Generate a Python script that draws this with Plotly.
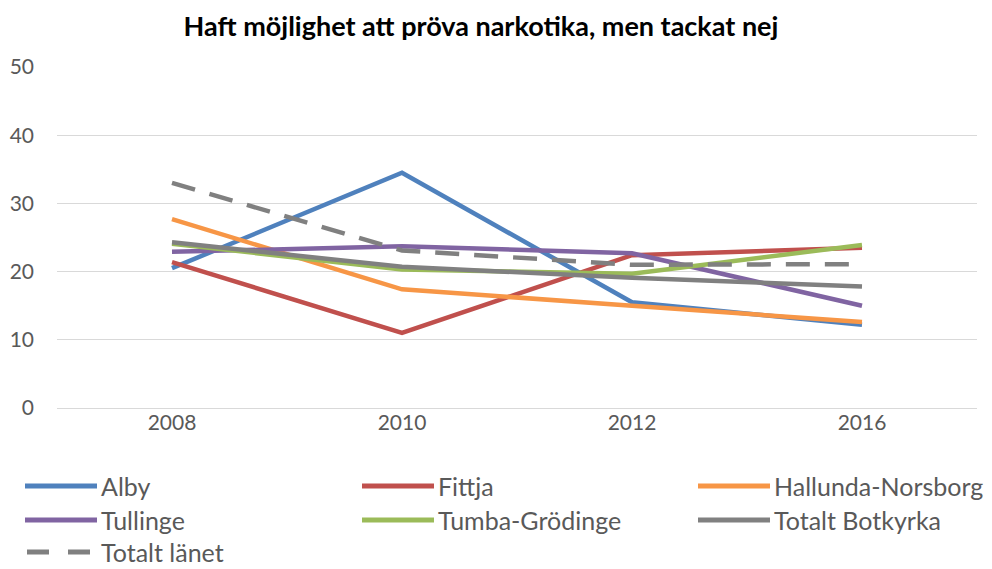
import plotly.graph_objects as go

years = ["2008", "2010", "2012", "2016"]
alby = [20.5, 34.5, 15.5, 12.2]
fittja = [21.4, 11.0, 22.4, 23.5]
hallunda = [27.7, 17.4, 15.0, 12.6]
tullinge = [22.9, 23.7, 22.7, 15.0]
tumba = [24.1, 20.3, 19.7, 23.9]
botkyrka = [24.3, 20.7, 19.1, 17.8]
lanet = [33.0, 23.1, 21.0, 21.1]

names = ["Alby", "Fittja", "Hallunda-Norsborg", "Tullinge",
         "Tumba-Grödinge", "Totalt Botkyrka", "Totalt länet"]
values = [alby, fittja, hallunda, tullinge, tumba, botkyrka, lanet]
colors = ["#4f81bd", "#c0504d", "#f79646", "#8064a2", "#9bbb59", "#808080", "#808080"]
dashes = ["solid"] * 6 + ["24px,15px"]

W_FIG, H_FIG = 992, 569
L, R, T, B = 57, 15, 67, 161
PW, PH = W_FIG - L - R, H_FIG - T - B


def px(x):
    return (x - L) / PW


def py(y):
    return 1 - (y - T) / PH


fig = go.Figure()
for name, vals, color, dash in zip(names, values, colors, dashes):
    fig.add_trace(go.Scatter(
        x=years, y=vals, name=name, mode="lines",
        line=dict(color=color, width=4.5, dash=dash),
        showlegend=False, hoverinfo="skip",
    ))

# manual legend (3 columns, like the original)
col_x = [25, 362, 698]
row_y = [486, 520, 552]
shapes = []
annotations = []
for i, (name, color) in enumerate(zip(names, colors)):
    c, r = i % 3, i // 3
    x0 = col_x[c]
    y = row_y[r]
    if dashes[i] == "solid":
        shapes.append(dict(type="line", xref="paper", yref="paper",
                           x0=px(x0), x1=px(x0 + 72), y0=py(y), y1=py(y),
                           line=dict(color=color, width=5)))
    else:
        shapes.append(dict(type="line", xref="paper", yref="paper",
                           x0=px(x0 + 2), x1=px(x0 + 65), y0=py(y), y1=py(y),
                           line=dict(color=color, width=5, dash="22px,19px")))
    annotations.append(dict(text=name, xref="paper", yref="paper",
                            x=px(x0 + 75), y=py(y), xanchor="left", yanchor="middle",
                            showarrow=False, borderpad=0,
                            font=dict(size=25, color="#595959",
                                      family="Lato, Open Sans, sans-serif")))

fig.update_layout(
    width=W_FIG, height=H_FIG,
    margin=dict(l=L, r=R, t=T, b=B, autoexpand=False),
    paper_bgcolor="white", plot_bgcolor="white",
    font=dict(family="Lato, Open Sans, sans-serif", color="#595959", size=21),
    title=dict(text="<b>Haft möjlighet att pröva narkotika, men tackat nej</b>",
               x=481 / W_FIG, xanchor="center", xref="container",
               y=1 - 27 / H_FIG, yanchor="middle", yref="container",
               font=dict(size=27, color="#000000")),
    xaxis=dict(type="category", range=[-0.5, 3.5], showgrid=False,
               showline=False, ticks="", tickfont=dict(size=21, color="#595959")),
    yaxis=dict(range=[0, 50], dtick=10, showgrid=True, gridcolor="#d9d9d9",
               gridwidth=1, zeroline=True, zerolinecolor="#d9d9d9", zerolinewidth=1,
               ticks="", tickfont=dict(size=21, color="#595959"), ticklabelstandoff=22),
    shapes=shapes,
    annotations=annotations,
    showlegend=False,
)

fig.write_html("out.html", config={"displayModeBar": False},
               post_script="document.body.style.margin='0';document.body.style.overflow='hidden';")
